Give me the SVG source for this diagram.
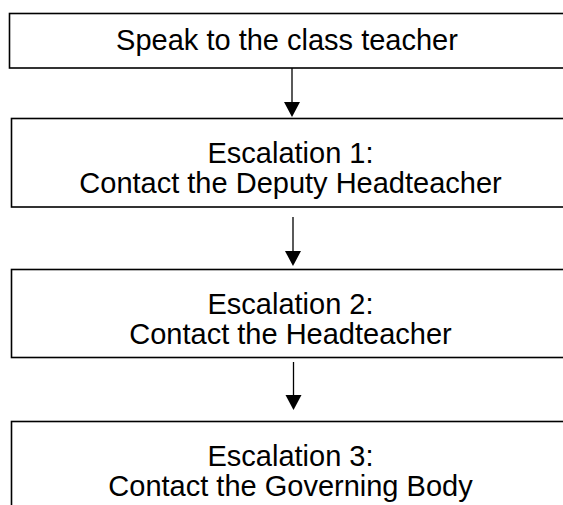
<svg xmlns="http://www.w3.org/2000/svg" width="563" height="505" viewBox="0 0 563 505">
<defs>
<style>
.box{fill:#fff;stroke:#000;stroke-width:1.6}
.t{font-family:"Liberation Sans",Arial,sans-serif;font-size:29px;fill:#000;text-anchor:middle}
.c{stroke:#000;stroke-width:1.3;fill:none}
.h{fill:#000}
</style>
</defs>
<rect width="563" height="505" fill="#fff"/>
<g id="connectors">
<line class="c" x1="292" y1="68" x2="292" y2="103"/>
<polygon class="h" points="284,102 300,102 292,117"/>
<line class="c" x1="293" y1="217" x2="293" y2="252"/>
<polygon class="h" points="285,251 301,251 293,266"/>
<line class="c" x1="293.5" y1="362" x2="293.5" y2="396"/>
<polygon class="h" points="285.5,395 301.5,395 293.5,410"/>
</g>
<g id="n1">
<rect class="box" x="9.5" y="13.5" width="570" height="54.5"/>
<text class="t" x="287" y="50">Speak to the class teacher</text>
</g>
<g id="n2">
<rect class="box" x="11.5" y="118.5" width="570" height="88.5"/>
<text class="t" x="290.5" y="163">Escalation 1:</text>
<text class="t" x="290.5" y="193">Contact the Deputy Headteacher</text>
</g>
<g id="n3">
<rect class="box" x="11.5" y="269.5" width="570" height="88"/>
<text class="t" x="290.5" y="314">Escalation 2:</text>
<text class="t" x="290.5" y="344">Contact the Headteacher</text>
</g>
<g id="n4">
<rect class="box" x="11.5" y="421.5" width="570" height="100"/>
<text class="t" x="290.5" y="466">Escalation 3:</text>
<text class="t" x="290.5" y="496">Contact the Governing Body</text>
</g>
</svg>
